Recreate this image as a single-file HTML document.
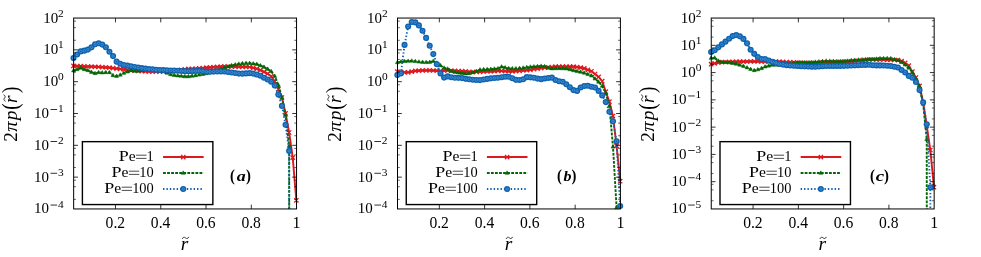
<!DOCTYPE html>
<html><head><meta charset="utf-8"><title>plot</title>
<style>
html,body{margin:0;padding:0;background:#fff;}
body{width:981px;height:257px;overflow:hidden;font-family:"Liberation Serif",serif;}
svg{display:block;will-change:transform;font-family:"Liberation Serif",serif;}
</style></head><body>
<svg width="981" height="257" viewBox="0 0 981 257" fill="#000">
<rect width="981" height="257" fill="#fff"/>
<g>
<path d="M73.5 65.9L77.09 66.05L80.69 66.2L84.28 66.35L87.88 66.49L91.47 66.63L95.06 66.77L98.66 66.98L102.25 67.21L105.85 67.43L109.44 67.71L113.03 68.13L116.63 68.55L120.22 68.96L123.82 69.45L127.41 69.97L131 70.36L134.6 70.64L138.19 70.89L141.79 71.1L145.38 71.32L148.97 71.53L152.57 71.74L156.16 71.75L159.76 71.69L163.35 71.62L166.94 71.56L170.54 71.42L174.13 70.89L177.73 70.36L181.32 69.84L184.91 69.31L188.51 68.93L192.1 68.76L195.7 68.6L199.29 68.43L202.88 68.06L206.48 67.63L210.07 67.36L213.67 67.1L217.26 66.85L220.85 66.59L224.45 66.42L228.04 66.51L231.64 66.6L235.23 66.68L238.82 66.77L242.42 66.85L246.01 66.92L249.61 66.99L253.2 67.84L256.79 68.78L260.39 70.13L263.98 71.82L267.58 73.73L271.17 76.32L274.76 81.3L278.36 89.3L281.95 97.5L285.55 113.4L289.14 132.5L292.73 157.6L296.33 200.3" stroke="#dd181f" stroke-width="1.9" fill="none" stroke-linejoin="round"/>
<path d="M71.35 63.75L75.65 68.05M71.35 68.05L75.65 63.75M74.94 63.9L79.24 68.2M74.94 68.2L79.24 63.9M78.54 64.05L82.84 68.35M78.54 68.35L82.84 64.05M82.13 64.2L86.43 68.5M82.13 68.5L86.43 64.2M85.73 64.34L90.03 68.64M85.73 68.64L90.03 64.34M89.32 64.48L93.62 68.78M89.32 68.78L93.62 64.48M92.91 64.62L97.21 68.92M92.91 68.92L97.21 64.62M96.51 64.83L100.81 69.13M96.51 69.13L100.81 64.83M100.1 65.06L104.4 69.36M100.1 69.36L104.4 65.06M103.7 65.28L108 69.58M103.7 69.58L108 65.28M107.29 65.56L111.59 69.86M107.29 69.86L111.59 65.56M110.88 65.98L115.18 70.28M110.88 70.28L115.18 65.98M114.48 66.4L118.78 70.7M114.48 70.7L118.78 66.4M118.07 66.81L122.37 71.11M118.07 71.11L122.37 66.81M121.67 67.3L125.97 71.6M121.67 71.6L125.97 67.3M125.26 67.82L129.56 72.12M125.26 72.12L129.56 67.82M128.85 68.21L133.15 72.51M128.85 72.51L133.15 68.21M132.45 68.49L136.75 72.79M132.45 72.79L136.75 68.49M136.04 68.74L140.34 73.04M136.04 73.04L140.34 68.74M139.64 68.95L143.94 73.25M139.64 73.25L143.94 68.95M143.23 69.17L147.53 73.47M143.23 73.47L147.53 69.17M146.82 69.38L151.12 73.68M146.82 73.68L151.12 69.38M150.42 69.59L154.72 73.89M150.42 73.89L154.72 69.59M154.01 69.6L158.31 73.9M154.01 73.9L158.31 69.6M157.61 69.54L161.91 73.84M157.61 73.84L161.91 69.54M161.2 69.47L165.5 73.77M161.2 73.77L165.5 69.47M164.79 69.41L169.09 73.71M164.79 73.71L169.09 69.41M168.39 69.27L172.69 73.57M168.39 73.57L172.69 69.27M171.98 68.74L176.28 73.04M171.98 73.04L176.28 68.74M175.58 68.21L179.88 72.51M175.58 72.51L179.88 68.21M179.17 67.69L183.47 71.99M179.17 71.99L183.47 67.69M182.76 67.16L187.06 71.46M182.76 71.46L187.06 67.16M186.36 66.78L190.66 71.08M186.36 71.08L190.66 66.78M189.95 66.61L194.25 70.91M189.95 70.91L194.25 66.61M193.55 66.45L197.85 70.75M193.55 70.75L197.85 66.45M197.14 66.28L201.44 70.58M197.14 70.58L201.44 66.28M200.73 65.91L205.03 70.21M200.73 70.21L205.03 65.91M204.33 65.48L208.63 69.78M204.33 69.78L208.63 65.48M207.92 65.21L212.22 69.51M207.92 69.51L212.22 65.21M211.52 64.95L215.82 69.25M211.52 69.25L215.82 64.95M215.11 64.7L219.41 69M215.11 69L219.41 64.7M218.7 64.44L223 68.74M218.7 68.74L223 64.44M222.3 64.27L226.6 68.57M222.3 68.57L226.6 64.27M225.89 64.36L230.19 68.66M225.89 68.66L230.19 64.36M229.49 64.45L233.79 68.75M229.49 68.75L233.79 64.45M233.08 64.53L237.38 68.83M233.08 68.83L237.38 64.53M236.67 64.62L240.97 68.92M236.67 68.92L240.97 64.62M240.27 64.7L244.57 69M240.27 69L244.57 64.7M243.86 64.77L248.16 69.07M243.86 69.07L248.16 64.77M247.46 64.84L251.76 69.14M247.46 69.14L251.76 64.84M251.05 65.69L255.35 69.99M251.05 69.99L255.35 65.69M254.64 66.63L258.94 70.93M254.64 70.93L258.94 66.63M258.24 67.98L262.54 72.28M258.24 72.28L262.54 67.98M261.83 69.67L266.13 73.97M261.83 73.97L266.13 69.67M265.43 71.58L269.73 75.88M265.43 75.88L269.73 71.58M269.02 74.17L273.32 78.47M269.02 78.47L273.32 74.17M272.61 79.15L276.91 83.45M272.61 83.45L276.91 79.15M276.21 87.15L280.51 91.45M276.21 91.45L280.51 87.15M279.8 95.35L284.1 99.65M279.8 99.65L284.1 95.35M283.4 111.25L287.7 115.55M283.4 115.55L287.7 111.25M286.99 130.35L291.29 134.65M286.99 134.65L291.29 130.35M290.58 155.45L294.88 159.75M290.58 159.75L294.88 155.45M294.18 198.15L298.48 202.45M294.18 202.45L298.48 198.15" stroke="#dd181f" stroke-width="1.3" fill="none"/>
<path d="M73.5 70.7L77.09 69.4L80.69 67.98L84.28 69.49L87.88 70.42L91.47 72.14L95.06 73.4L98.66 72.43L102.25 72.69L105.85 72.41L109.44 72.4L113.03 75.54L116.63 76.16L120.22 74.96L123.82 73.1L127.41 71.83L131 70.42L134.6 71.08L138.19 71.1L141.79 70.45L145.38 69.79L148.97 69.65L152.57 69.52L156.16 69.85L159.76 70.25L163.35 71.16L166.94 72.93L170.54 74.44L174.13 75.26L177.73 75.69L181.32 76.12L184.91 76.55L188.51 76.57L192.1 76.01L195.7 75.46L199.29 74.86L202.88 74.2L206.48 73.54L210.07 72.48L213.67 71.39L217.26 70.29L220.85 69.2L224.45 68.06L228.04 66.76L231.64 65.46L235.23 64.71L238.82 63.98L242.42 63.54L246.01 63.28L249.61 63.23L253.2 63.7L256.79 64.17L260.39 65.59L263.98 67.06L267.58 69.06L271.17 71.36L274.76 76.21L278.36 85.1L281.95 97.5L285.55 115.1L289.14 146L289.19 208.95" stroke="#056605" stroke-width="1.9" fill="none" stroke-dasharray="2.8 1.25" stroke-linejoin="round"/>
<path d="M73.5 68.5L75.5 71.95L71.5 71.95ZM77.09 67.2L79.09 70.65L75.09 70.65ZM80.69 65.78L82.69 69.23L78.69 69.23ZM84.28 67.29L86.28 70.74L82.28 70.74ZM87.88 68.22L89.88 71.67L85.88 71.67ZM91.47 69.94L93.47 73.39L89.47 73.39ZM95.06 71.2L97.06 74.65L93.06 74.65ZM98.66 70.23L100.66 73.68L96.66 73.68ZM102.25 70.49L104.25 73.94L100.25 73.94ZM105.85 70.21L107.85 73.66L103.85 73.66ZM109.44 70.2L111.44 73.65L107.44 73.65ZM113.03 73.34L115.03 76.79L111.03 76.79ZM116.63 73.96L118.63 77.41L114.63 77.41ZM120.22 72.76L122.22 76.21L118.22 76.21ZM123.82 70.9L125.82 74.35L121.82 74.35ZM127.41 69.63L129.41 73.08L125.41 73.08ZM131 68.22L133 71.67L129 71.67ZM134.6 68.88L136.6 72.33L132.6 72.33ZM138.19 68.9L140.19 72.35L136.19 72.35ZM141.79 68.25L143.79 71.7L139.79 71.7ZM145.38 67.59L147.38 71.04L143.38 71.04ZM148.97 67.45L150.97 70.9L146.97 70.9ZM152.57 67.32L154.57 70.77L150.57 70.77ZM156.16 67.65L158.16 71.1L154.16 71.1ZM159.76 68.05L161.76 71.5L157.76 71.5ZM163.35 68.96L165.35 72.41L161.35 72.41ZM166.94 70.73L168.94 74.18L164.94 74.18ZM170.54 72.24L172.54 75.69L168.54 75.69ZM174.13 73.06L176.13 76.51L172.13 76.51ZM177.73 73.49L179.73 76.94L175.73 76.94ZM181.32 73.92L183.32 77.37L179.32 77.37ZM184.91 74.35L186.91 77.8L182.91 77.8ZM188.51 74.37L190.51 77.82L186.51 77.82ZM192.1 73.81L194.1 77.26L190.1 77.26ZM195.7 73.26L197.7 76.71L193.7 76.71ZM199.29 72.66L201.29 76.11L197.29 76.11ZM202.88 72L204.88 75.45L200.88 75.45ZM206.48 71.34L208.48 74.79L204.48 74.79ZM210.07 70.28L212.07 73.73L208.07 73.73ZM213.67 69.19L215.67 72.64L211.67 72.64ZM217.26 68.09L219.26 71.54L215.26 71.54ZM220.85 67L222.85 70.45L218.85 70.45ZM224.45 65.86L226.45 69.31L222.45 69.31ZM228.04 64.56L230.04 68.01L226.04 68.01ZM231.64 63.26L233.64 66.71L229.64 66.71ZM235.23 62.51L237.23 65.96L233.23 65.96ZM238.82 61.78L240.82 65.23L236.82 65.23ZM242.42 61.34L244.42 64.79L240.42 64.79ZM246.01 61.08L248.01 64.53L244.01 64.53ZM249.61 61.03L251.61 64.48L247.61 64.48ZM253.2 61.5L255.2 64.95L251.2 64.95ZM256.79 61.97L258.79 65.42L254.79 65.42ZM260.39 63.39L262.39 66.84L258.39 66.84ZM263.98 64.86L265.98 68.31L261.98 68.31ZM267.58 66.86L269.58 70.31L265.58 70.31ZM271.17 69.16L273.17 72.61L269.17 72.61ZM274.76 74.01L276.76 77.46L272.76 77.46ZM278.36 82.9L280.36 86.35L276.36 86.35ZM281.95 95.3L283.95 98.75L279.95 98.75ZM285.55 112.9L287.55 116.35L283.55 116.35ZM289.14 143.8L291.14 147.25L287.14 147.25Z" fill="#056605" stroke="#056605" stroke-width="0.5" stroke-linejoin="miter"/>
<path d="M73.5 58.1L77.09 54.53L80.69 51.41L84.28 50.65L87.88 49.6L91.47 47.37L95.06 44.31L98.66 43.32L102.25 44.58L105.85 47.31L109.44 51.8L113.03 56.09L116.63 61.66L120.22 63.7L123.82 64.97L127.41 65.65L131 66.32L134.6 66.94L138.19 67.55L141.79 68.17L145.38 68.67L148.97 69.03L152.57 69.39L156.16 69.76L159.76 69.95L163.35 70.12L166.94 70.28L170.54 70.44L174.13 70.59L177.73 70.74L181.32 70.96L184.91 71.17L188.51 71.25L192.1 71.14L195.7 71.03L199.29 70.92L202.88 71.29L206.48 71.77L210.07 71.7L213.67 71.59L217.26 71.49L220.85 71.38L224.45 71.44L228.04 71.98L231.64 72.52L235.23 73.06L238.82 73.59L242.42 73.64L246.01 73.38L249.61 73.13L253.2 73.62L256.79 74.51L260.39 75.72L263.98 77.68L267.58 79.45L271.17 81.65L274.76 85.53L278.36 94.6L281.95 105.9L285.55 124.8L289.14 150.9L289.19 208.95" stroke="#0c62b0" stroke-width="1.9" fill="none" stroke-dasharray="1.4 2.0" stroke-linejoin="round"/>
<g fill="#0c62b0"><circle cx="73.5" cy="58.1" r="3.05"/><circle cx="77.09" cy="54.53" r="3.05"/><circle cx="80.69" cy="51.41" r="3.05"/><circle cx="84.28" cy="50.65" r="3.05"/><circle cx="87.88" cy="49.6" r="3.05"/><circle cx="91.47" cy="47.37" r="3.05"/><circle cx="95.06" cy="44.31" r="3.05"/><circle cx="98.66" cy="43.32" r="3.05"/><circle cx="102.25" cy="44.58" r="3.05"/><circle cx="105.85" cy="47.31" r="3.05"/><circle cx="109.44" cy="51.8" r="3.05"/><circle cx="113.03" cy="56.09" r="3.05"/><circle cx="116.63" cy="61.66" r="3.05"/><circle cx="120.22" cy="63.7" r="3.05"/><circle cx="123.82" cy="64.97" r="3.05"/><circle cx="127.41" cy="65.65" r="3.05"/><circle cx="131" cy="66.32" r="3.05"/><circle cx="134.6" cy="66.94" r="3.05"/><circle cx="138.19" cy="67.55" r="3.05"/><circle cx="141.79" cy="68.17" r="3.05"/><circle cx="145.38" cy="68.67" r="3.05"/><circle cx="148.97" cy="69.03" r="3.05"/><circle cx="152.57" cy="69.39" r="3.05"/><circle cx="156.16" cy="69.76" r="3.05"/><circle cx="159.76" cy="69.95" r="3.05"/><circle cx="163.35" cy="70.12" r="3.05"/><circle cx="166.94" cy="70.28" r="3.05"/><circle cx="170.54" cy="70.44" r="3.05"/><circle cx="174.13" cy="70.59" r="3.05"/><circle cx="177.73" cy="70.74" r="3.05"/><circle cx="181.32" cy="70.96" r="3.05"/><circle cx="184.91" cy="71.17" r="3.05"/><circle cx="188.51" cy="71.25" r="3.05"/><circle cx="192.1" cy="71.14" r="3.05"/><circle cx="195.7" cy="71.03" r="3.05"/><circle cx="199.29" cy="70.92" r="3.05"/><circle cx="202.88" cy="71.29" r="3.05"/><circle cx="206.48" cy="71.77" r="3.05"/><circle cx="210.07" cy="71.7" r="3.05"/><circle cx="213.67" cy="71.59" r="3.05"/><circle cx="217.26" cy="71.49" r="3.05"/><circle cx="220.85" cy="71.38" r="3.05"/><circle cx="224.45" cy="71.44" r="3.05"/><circle cx="228.04" cy="71.98" r="3.05"/><circle cx="231.64" cy="72.52" r="3.05"/><circle cx="235.23" cy="73.06" r="3.05"/><circle cx="238.82" cy="73.59" r="3.05"/><circle cx="242.42" cy="73.64" r="3.05"/><circle cx="246.01" cy="73.38" r="3.05"/><circle cx="249.61" cy="73.13" r="3.05"/><circle cx="253.2" cy="73.62" r="3.05"/><circle cx="256.79" cy="74.51" r="3.05"/><circle cx="260.39" cy="75.72" r="3.05"/><circle cx="263.98" cy="77.68" r="3.05"/><circle cx="267.58" cy="79.45" r="3.05"/><circle cx="271.17" cy="81.65" r="3.05"/><circle cx="274.76" cy="85.53" r="3.05"/><circle cx="278.36" cy="94.6" r="3.05"/><circle cx="281.95" cy="105.9" r="3.05"/><circle cx="285.55" cy="124.8" r="3.05"/><circle cx="289.14" cy="150.9" r="3.05"/></g><g fill="none" stroke="#65a3de" stroke-width="0.6"><circle cx="73.5" cy="58.1" r="1.2"/><circle cx="77.09" cy="54.53" r="1.2"/><circle cx="80.69" cy="51.41" r="1.2"/><circle cx="84.28" cy="50.65" r="1.2"/><circle cx="87.88" cy="49.6" r="1.2"/><circle cx="91.47" cy="47.37" r="1.2"/><circle cx="95.06" cy="44.31" r="1.2"/><circle cx="98.66" cy="43.32" r="1.2"/><circle cx="102.25" cy="44.58" r="1.2"/><circle cx="105.85" cy="47.31" r="1.2"/><circle cx="109.44" cy="51.8" r="1.2"/><circle cx="113.03" cy="56.09" r="1.2"/><circle cx="116.63" cy="61.66" r="1.2"/><circle cx="120.22" cy="63.7" r="1.2"/><circle cx="123.82" cy="64.97" r="1.2"/><circle cx="127.41" cy="65.65" r="1.2"/><circle cx="131" cy="66.32" r="1.2"/><circle cx="134.6" cy="66.94" r="1.2"/><circle cx="138.19" cy="67.55" r="1.2"/><circle cx="141.79" cy="68.17" r="1.2"/><circle cx="145.38" cy="68.67" r="1.2"/><circle cx="148.97" cy="69.03" r="1.2"/><circle cx="152.57" cy="69.39" r="1.2"/><circle cx="156.16" cy="69.76" r="1.2"/><circle cx="159.76" cy="69.95" r="1.2"/><circle cx="163.35" cy="70.12" r="1.2"/><circle cx="166.94" cy="70.28" r="1.2"/><circle cx="170.54" cy="70.44" r="1.2"/><circle cx="174.13" cy="70.59" r="1.2"/><circle cx="177.73" cy="70.74" r="1.2"/><circle cx="181.32" cy="70.96" r="1.2"/><circle cx="184.91" cy="71.17" r="1.2"/><circle cx="188.51" cy="71.25" r="1.2"/><circle cx="192.1" cy="71.14" r="1.2"/><circle cx="195.7" cy="71.03" r="1.2"/><circle cx="199.29" cy="70.92" r="1.2"/><circle cx="202.88" cy="71.29" r="1.2"/><circle cx="206.48" cy="71.77" r="1.2"/><circle cx="210.07" cy="71.7" r="1.2"/><circle cx="213.67" cy="71.59" r="1.2"/><circle cx="217.26" cy="71.49" r="1.2"/><circle cx="220.85" cy="71.38" r="1.2"/><circle cx="224.45" cy="71.44" r="1.2"/><circle cx="228.04" cy="71.98" r="1.2"/><circle cx="231.64" cy="72.52" r="1.2"/><circle cx="235.23" cy="73.06" r="1.2"/><circle cx="238.82" cy="73.59" r="1.2"/><circle cx="242.42" cy="73.64" r="1.2"/><circle cx="246.01" cy="73.38" r="1.2"/><circle cx="249.61" cy="73.13" r="1.2"/><circle cx="253.2" cy="73.62" r="1.2"/><circle cx="256.79" cy="74.51" r="1.2"/><circle cx="260.39" cy="75.72" r="1.2"/><circle cx="263.98" cy="77.68" r="1.2"/><circle cx="267.58" cy="79.45" r="1.2"/><circle cx="271.17" cy="81.65" r="1.2"/><circle cx="274.76" cy="85.53" r="1.2"/><circle cx="278.36" cy="94.6" r="1.2"/><circle cx="281.95" cy="105.9" r="1.2"/><circle cx="285.55" cy="124.8" r="1.2"/><circle cx="289.14" cy="150.9" r="1.2"/></g>
<rect x="82.4" y="141.66" width="130.46" height="62.9" fill="#fff" stroke="#000" stroke-width="1.4"/>
<rect x="73.65" y="18.05" width="222.9" height="190.9" fill="none" stroke="#000" stroke-width="1.0"/>
<path d="M115.48 208.95v-4.3M115.48 18.05v4.3M160.76 208.95v-4.3M160.76 18.05v4.3M206.04 208.95v-4.3M206.04 18.05v4.3M251.32 208.95v-4.3M251.32 18.05v4.3M73.65 49.87h4.3M296.55 49.87h-4.3M73.65 81.68h4.3M296.55 81.68h-4.3M73.65 113.5h4.3M296.55 113.5h-4.3M73.65 145.32h4.3M296.55 145.32h-4.3M73.65 177.13h4.3M296.55 177.13h-4.3" stroke="#000" stroke-width="0.8" fill="none"/>
<path d="M73.65 40.29h2.3M296.55 40.29h-2.3M73.65 27.63h2.3M296.55 27.63h-2.3M73.65 21.13h2.3M296.55 21.13h-2.3M73.65 72.11h2.3M296.55 72.11h-2.3M73.65 59.44h2.3M296.55 59.44h-2.3M73.65 52.95h2.3M296.55 52.95h-2.3M73.65 103.92h2.3M296.55 103.92h-2.3M73.65 91.26h2.3M296.55 91.26h-2.3M73.65 84.77h2.3M296.55 84.77h-2.3M73.65 135.74h2.3M296.55 135.74h-2.3M73.65 123.08h2.3M296.55 123.08h-2.3M73.65 116.58h2.3M296.55 116.58h-2.3M73.65 167.56h2.3M296.55 167.56h-2.3M73.65 154.89h2.3M296.55 154.89h-2.3M73.65 148.4h2.3M296.55 148.4h-2.3M73.65 199.37h2.3M296.55 199.37h-2.3M73.65 186.71h2.3M296.55 186.71h-2.3M73.65 180.22h2.3M296.55 180.22h-2.3" stroke="#000" stroke-width="0.6" fill="none"/>
<text x="43.25" y="22.55" font-size="15.4" textLength="15.0" lengthAdjust="spacingAndGlyphs">10</text><text x="60.95" y="16.65" text-anchor="middle" font-size="11.4">2</text>
<text x="43.25" y="54.37" font-size="15.4" textLength="15.0" lengthAdjust="spacingAndGlyphs">10</text><text x="60.95" y="48.47" text-anchor="middle" font-size="11.4">1</text>
<text x="43.25" y="86.18" font-size="15.4" textLength="15.0" lengthAdjust="spacingAndGlyphs">10</text><text x="60.95" y="80.28" text-anchor="middle" font-size="11.4">0</text>
<text x="33.95" y="118" font-size="15.4" textLength="15.0" lengthAdjust="spacingAndGlyphs">10</text><rect x="50.55" y="109.2" width="6.6" height="0.8"/><text x="60.75" y="112.1" text-anchor="middle" font-size="11.4">1</text>
<text x="33.95" y="149.82" font-size="15.4" textLength="15.0" lengthAdjust="spacingAndGlyphs">10</text><rect x="50.55" y="141.02" width="6.6" height="0.8"/><text x="60.75" y="143.92" text-anchor="middle" font-size="11.4">2</text>
<text x="33.95" y="181.63" font-size="15.4" textLength="15.0" lengthAdjust="spacingAndGlyphs">10</text><rect x="50.55" y="172.83" width="6.6" height="0.8"/><text x="60.75" y="175.73" text-anchor="middle" font-size="11.4">3</text>
<text x="33.95" y="213.45" font-size="15.4" textLength="15.0" lengthAdjust="spacingAndGlyphs">10</text><rect x="50.55" y="204.65" width="6.6" height="0.8"/><text x="60.75" y="207.55" text-anchor="middle" font-size="11.4">4</text>
<text x="105.58" y="228.1" font-size="16.0" textLength="19.5" lengthAdjust="spacingAndGlyphs">0.2</text>
<text x="150.86" y="228.1" font-size="16.0" textLength="19.5" lengthAdjust="spacingAndGlyphs">0.4</text>
<text x="196.14" y="228.1" font-size="16.0" textLength="19.5" lengthAdjust="spacingAndGlyphs">0.6</text>
<text x="241.42" y="228.1" font-size="16.0" textLength="19.5" lengthAdjust="spacingAndGlyphs">0.8</text>
<text x="296.55" y="228.1" text-anchor="middle" font-size="16.0">1</text>
<text x="153.75" y="160.6" text-anchor="end" font-size="14.4">1</text>
<path d="M136.05 155.2h10.4M136.05 158.4h10.4" stroke="#000" stroke-width="0.7" fill="none"/>
<text x="135.55" y="160.6" text-anchor="end" font-size="15.6">e</text>
<text x="118.65" y="160.6" font-size="15.3" textLength="10.0" lengthAdjust="spacingAndGlyphs">P</text>
<path d="M163.05 157.05H203.65" stroke="#dd181f" stroke-width="1.9"/>
<path d="M181.1 154.9L185.4 159.2M181.1 159.2L185.4 154.9" stroke="#dd181f" stroke-width="1.3" fill="none"/>
<text x="153.75" y="176.6" text-anchor="end" font-size="14.4">10</text>
<path d="M128.85 171.2h10.4M128.85 174.4h10.4" stroke="#000" stroke-width="0.7" fill="none"/>
<text x="128.35" y="176.6" text-anchor="end" font-size="15.6">e</text>
<text x="111.45" y="176.6" font-size="15.3" textLength="10.0" lengthAdjust="spacingAndGlyphs">P</text>
<path d="M163.05 173.05H203.65" stroke="#056605" stroke-width="1.9" stroke-dasharray="2.8 1.25"/>
<path d="M183.25 170.85L185.25 174.3L181.25 174.3Z" fill="#056605" stroke="#056605" stroke-width="0.5" stroke-linejoin="miter"/>
<text x="153.75" y="192.6" text-anchor="end" font-size="14.4">100</text>
<path d="M121.65 187.2h10.4M121.65 190.4h10.4" stroke="#000" stroke-width="0.7" fill="none"/>
<text x="121.15" y="192.6" text-anchor="end" font-size="15.6">e</text>
<text x="104.25" y="192.6" font-size="15.3" textLength="10.0" lengthAdjust="spacingAndGlyphs">P</text>
<path d="M163.05 189.05H203.65" stroke="#0c62b0" stroke-width="1.9" stroke-dasharray="1.4 2.0"/>
<g fill="#0c62b0"><circle cx="183.25" cy="189.05" r="3.05"/></g><g fill="none" stroke="#65a3de" stroke-width="0.6"><circle cx="183.25" cy="189.05" r="1.2"/></g>
<text x="230" y="181.2" font-size="17" font-weight="bold" textLength="4.9" lengthAdjust="spacingAndGlyphs">(</text>
<text x="236.8" y="181.0" font-size="14.4" font-weight="bold" font-style="italic" textLength="9.0" lengthAdjust="spacingAndGlyphs">a</text>
<text x="246" y="181.2" font-size="17" font-weight="bold" textLength="4.9" lengthAdjust="spacingAndGlyphs">)</text>
<text x="180.8" y="250.0" font-size="19.4" font-style="italic">r</text>
<path transform="translate(185.5 237.9)" d="M-3.1 0.7c0.7-1.7 1.9-1.7 3.1-0.7s2.4 1 3.1-0.7" stroke="#000" stroke-width="0.75" fill="none" stroke-linecap="round"/>
<g transform="translate(16.65 141.9) rotate(-90)" font-size="19.4"><text x="0.2" y="0">2</text><text x="10.2" y="0" font-style="italic" textLength="10.4" lengthAdjust="spacingAndGlyphs">π</text><text x="21.6" y="0" font-style="italic">p</text><text x="32.2" y="1.0" font-size="23" textLength="6.4" lengthAdjust="spacingAndGlyphs">(</text><text x="38.9" y="0" font-style="italic">r</text><path transform="translate(43.9 -12.1)" d="M-3.1 0.7c0.7-1.7 1.9-1.7 3.1-0.7s2.4 1 3.1-0.7" stroke="#000" stroke-width="0.75" fill="none" stroke-linecap="round"/><text x="49.0" y="1.0" font-size="23" textLength="6.4" lengthAdjust="spacingAndGlyphs">)</text></g>
</g>
<g>
<path d="M397.35 71.7L400.94 72.04L404.54 72.39L408.13 72.31L411.73 71.58L415.32 70.89L418.91 70.67L422.51 70.45L426.1 70.4L429.7 70.4L433.29 70.49L436.88 70.7L440.48 70.88L444.07 70.67L447.67 70.45L451.26 70.57L454.85 70.79L458.45 71L462.04 71.22L465.64 71.45L469.23 71.75L472.82 72.05L476.42 71.96L480.01 71.79L483.61 71.64L487.2 71.51L490.79 71.37L494.39 71.19L497.98 71L501.58 70.97L505.17 71.12L508.76 71.27L512.36 71.35L515.95 71.07L519.55 70.79L523.14 70.51L526.73 70.23L530.33 69.78L533.92 69.18L537.52 68.61L541.11 68.14L544.7 67.66L548.3 67.32L551.89 66.99L555.49 66.7L559.08 66.7L562.67 66.7L566.27 66.7L569.86 66.7L573.46 66.7L577.05 67.04L580.64 67.64L584.24 68.43L587.83 69.84L591.43 71.25L595.02 74L598.61 76.93L602.21 81.1L605.8 91.7L609.4 101.7L612.99 116L616.58 145.9L620.18 181.2" stroke="#dd181f" stroke-width="1.9" fill="none" stroke-linejoin="round"/>
<path d="M395.2 69.55L399.5 73.85M395.2 73.85L399.5 69.55M398.79 69.89L403.09 74.19M398.79 74.19L403.09 69.89M402.39 70.24L406.69 74.54M402.39 74.54L406.69 70.24M405.98 70.16L410.28 74.46M405.98 74.46L410.28 70.16M409.58 69.43L413.88 73.73M409.58 73.73L413.88 69.43M413.17 68.74L417.47 73.04M413.17 73.04L417.47 68.74M416.76 68.52L421.06 72.82M416.76 72.82L421.06 68.52M420.36 68.3L424.66 72.6M420.36 72.6L424.66 68.3M423.95 68.25L428.25 72.55M423.95 72.55L428.25 68.25M427.55 68.25L431.85 72.55M427.55 72.55L431.85 68.25M431.14 68.34L435.44 72.64M431.14 72.64L435.44 68.34M434.73 68.55L439.03 72.85M434.73 72.85L439.03 68.55M438.33 68.73L442.63 73.03M438.33 73.03L442.63 68.73M441.92 68.52L446.22 72.82M441.92 72.82L446.22 68.52M445.52 68.3L449.82 72.6M445.52 72.6L449.82 68.3M449.11 68.42L453.41 72.72M449.11 72.72L453.41 68.42M452.7 68.64L457 72.94M452.7 72.94L457 68.64M456.3 68.85L460.6 73.15M456.3 73.15L460.6 68.85M459.89 69.07L464.19 73.37M459.89 73.37L464.19 69.07M463.49 69.3L467.79 73.6M463.49 73.6L467.79 69.3M467.08 69.6L471.38 73.9M467.08 73.9L471.38 69.6M470.67 69.9L474.97 74.2M470.67 74.2L474.97 69.9M474.27 69.81L478.57 74.11M474.27 74.11L478.57 69.81M477.86 69.64L482.16 73.94M477.86 73.94L482.16 69.64M481.46 69.49L485.76 73.79M481.46 73.79L485.76 69.49M485.05 69.36L489.35 73.66M485.05 73.66L489.35 69.36M488.64 69.22L492.94 73.52M488.64 73.52L492.94 69.22M492.24 69.04L496.54 73.34M492.24 73.34L496.54 69.04M495.83 68.85L500.13 73.15M495.83 73.15L500.13 68.85M499.43 68.82L503.73 73.12M499.43 73.12L503.73 68.82M503.02 68.97L507.32 73.27M503.02 73.27L507.32 68.97M506.61 69.12L510.91 73.42M506.61 73.42L510.91 69.12M510.21 69.2L514.51 73.5M510.21 73.5L514.51 69.2M513.8 68.92L518.1 73.22M513.8 73.22L518.1 68.92M517.4 68.64L521.7 72.94M517.4 72.94L521.7 68.64M520.99 68.36L525.29 72.66M520.99 72.66L525.29 68.36M524.58 68.08L528.88 72.38M524.58 72.38L528.88 68.08M528.18 67.63L532.48 71.93M528.18 71.93L532.48 67.63M531.77 67.03L536.07 71.33M531.77 71.33L536.07 67.03M535.37 66.46L539.67 70.76M535.37 70.76L539.67 66.46M538.96 65.99L543.26 70.29M538.96 70.29L543.26 65.99M542.55 65.51L546.85 69.81M542.55 69.81L546.85 65.51M546.15 65.17L550.45 69.47M546.15 69.47L550.45 65.17M549.74 64.84L554.04 69.14M549.74 69.14L554.04 64.84M553.34 64.55L557.64 68.85M553.34 68.85L557.64 64.55M556.93 64.55L561.23 68.85M556.93 68.85L561.23 64.55M560.52 64.55L564.82 68.85M560.52 68.85L564.82 64.55M564.12 64.55L568.42 68.85M564.12 68.85L568.42 64.55M567.71 64.55L572.01 68.85M567.71 68.85L572.01 64.55M571.31 64.55L575.61 68.85M571.31 68.85L575.61 64.55M574.9 64.89L579.2 69.19M574.9 69.19L579.2 64.89M578.49 65.49L582.79 69.79M578.49 69.79L582.79 65.49M582.09 66.28L586.39 70.58M582.09 70.58L586.39 66.28M585.68 67.69L589.98 71.99M585.68 71.99L589.98 67.69M589.28 69.1L593.58 73.4M589.28 73.4L593.58 69.1M592.87 71.85L597.17 76.15M592.87 76.15L597.17 71.85M596.46 74.78L600.76 79.08M596.46 79.08L600.76 74.78M600.06 78.95L604.36 83.25M600.06 83.25L604.36 78.95M603.65 89.55L607.95 93.85M603.65 93.85L607.95 89.55M607.25 99.55L611.55 103.85M607.25 103.85L611.55 99.55M610.84 113.85L615.14 118.15M610.84 118.15L615.14 113.85M614.43 143.75L618.73 148.05M614.43 148.05L618.73 143.75M618.03 179.05L622.33 183.35M618.03 183.35L622.33 179.05" stroke="#dd181f" stroke-width="1.3" fill="none"/>
<path d="M397.35 62.5L400.94 61.85L404.54 61.33L408.13 61.11L411.73 60.9L415.32 61.37L418.91 61.84L422.51 62.14L426.1 62.36L429.7 62.17L433.29 61.18L436.88 62.93L440.48 65.55L444.07 67.91L447.67 68.88L451.26 71.22L454.85 72.13L458.45 72.83L462.04 73.3L465.64 73.67L469.23 73.45L472.82 72.47L476.42 71.17L480.01 69.74L483.61 69.53L487.2 69.35L490.79 69.15L494.39 68.86L497.98 68.56L501.58 66.82L505.17 67.58L508.76 68.42L512.36 68.58L515.95 68.62L519.55 68.3L523.14 67.9L526.73 67.35L530.33 66.94L533.92 66.64L537.52 66.35L541.11 66.08L544.7 66.42L548.3 67.97L551.89 68.63L555.49 68.5L559.08 68.42L562.67 68.55L566.27 68.68L569.86 69.54L573.46 70.49L577.05 71.31L580.64 72.04L584.24 72.93L587.83 74.34L591.43 75.75L595.02 78.74L598.61 81.93L602.21 86.1L605.8 93.2L609.4 106.18L612.99 146.8L616.58 207.5" stroke="#056605" stroke-width="1.9" fill="none" stroke-dasharray="2.8 1.25" stroke-linejoin="round"/>
<path d="M397.35 60.3L399.35 63.75L395.35 63.75ZM400.94 59.65L402.94 63.1L398.94 63.1ZM404.54 59.13L406.54 62.58L402.54 62.58ZM408.13 58.91L410.13 62.36L406.13 62.36ZM411.73 58.7L413.73 62.15L409.73 62.15ZM415.32 59.17L417.32 62.62L413.32 62.62ZM418.91 59.64L420.91 63.09L416.91 63.09ZM422.51 59.94L424.51 63.39L420.51 63.39ZM426.1 60.16L428.1 63.61L424.1 63.61ZM429.7 59.97L431.7 63.42L427.7 63.42ZM433.29 58.98L435.29 62.43L431.29 62.43ZM436.88 60.73L438.88 64.18L434.88 64.18ZM440.48 63.35L442.48 66.8L438.48 66.8ZM444.07 65.71L446.07 69.16L442.07 69.16ZM447.67 66.68L449.67 70.13L445.67 70.13ZM451.26 69.02L453.26 72.47L449.26 72.47ZM454.85 69.93L456.85 73.38L452.85 73.38ZM458.45 70.63L460.45 74.08L456.45 74.08ZM462.04 71.1L464.04 74.55L460.04 74.55ZM465.64 71.47L467.64 74.92L463.64 74.92ZM469.23 71.25L471.23 74.7L467.23 74.7ZM472.82 70.27L474.82 73.72L470.82 73.72ZM476.42 68.97L478.42 72.42L474.42 72.42ZM480.01 67.54L482.01 70.99L478.01 70.99ZM483.61 67.33L485.61 70.78L481.61 70.78ZM487.2 67.15L489.2 70.6L485.2 70.6ZM490.79 66.95L492.79 70.4L488.79 70.4ZM494.39 66.66L496.39 70.11L492.39 70.11ZM497.98 66.36L499.98 69.81L495.98 69.81ZM501.58 64.62L503.58 68.07L499.58 68.07ZM505.17 65.38L507.17 68.83L503.17 68.83ZM508.76 66.22L510.76 69.67L506.76 69.67ZM512.36 66.38L514.36 69.83L510.36 69.83ZM515.95 66.42L517.95 69.87L513.95 69.87ZM519.55 66.1L521.55 69.55L517.55 69.55ZM523.14 65.7L525.14 69.15L521.14 69.15ZM526.73 65.15L528.73 68.6L524.73 68.6ZM530.33 64.74L532.33 68.19L528.33 68.19ZM533.92 64.44L535.92 67.89L531.92 67.89ZM537.52 64.15L539.52 67.6L535.52 67.6ZM541.11 63.88L543.11 67.33L539.11 67.33ZM544.7 64.22L546.7 67.67L542.7 67.67ZM548.3 65.77L550.3 69.22L546.3 69.22ZM551.89 66.43L553.89 69.88L549.89 69.88ZM555.49 66.3L557.49 69.75L553.49 69.75ZM559.08 66.22L561.08 69.67L557.08 69.67ZM562.67 66.35L564.67 69.8L560.67 69.8ZM566.27 66.48L568.27 69.93L564.27 69.93ZM569.86 67.34L571.86 70.79L567.86 70.79ZM573.46 68.29L575.46 71.74L571.46 71.74ZM577.05 69.11L579.05 72.56L575.05 72.56ZM580.64 69.84L582.64 73.29L578.64 73.29ZM584.24 70.73L586.24 74.18L582.24 74.18ZM587.83 72.14L589.83 75.59L585.83 75.59ZM591.43 73.55L593.43 77L589.43 77ZM595.02 76.54L597.02 79.99L593.02 79.99ZM598.61 79.73L600.61 83.18L596.61 83.18ZM602.21 83.9L604.21 87.35L600.21 87.35ZM605.8 91L607.8 94.45L603.8 94.45ZM609.4 103.98L611.4 107.43L607.4 107.43ZM612.99 144.6L614.99 148.05L610.99 148.05ZM616.58 205.3L618.58 208.75L614.58 208.75Z" fill="#056605" stroke="#056605" stroke-width="0.5" stroke-linejoin="miter"/>
<path d="M397.35 75.1L400.94 73.4L404.54 44.9L408.13 26.5L411.73 22L415.32 22.4L418.91 25.4L422.51 30.7L426.1 37.9L429.7 45.8L433.29 54.1L436.88 64.2L440.48 73.4L444.07 77.6L447.67 76.4L451.26 77.25L454.85 77.81L458.45 77.84L462.04 78.08L465.64 78.86L469.23 79.3L472.82 79.73L476.42 79.94L480.01 80.1L483.61 79.51L487.2 78.9L490.79 78.35L494.39 78.06L497.98 77.76L501.58 77.23L505.17 76.8L508.76 76.8L512.36 78.21L515.95 79.84L519.55 80L523.14 79.3L526.73 77.14L530.33 77.36L533.92 77.71L537.52 78.62L541.11 79.13L544.7 78.48L548.3 77.97L551.89 77.65L555.49 79.95L559.08 81.22L562.67 81.7L566.27 84.21L569.86 87.2L573.46 90.11L577.05 90.9L580.64 87.5L584.24 86L587.83 85.8L591.43 86.7L595.02 87.5L598.61 90.9L602.21 95.4L605.8 102.1L609.4 111.8L612.99 121.3L616.58 141.4L620.18 206" stroke="#0c62b0" stroke-width="1.9" fill="none" stroke-dasharray="1.4 2.0" stroke-linejoin="round"/>
<g fill="#0c62b0"><circle cx="397.35" cy="75.1" r="3.05"/><circle cx="400.94" cy="73.4" r="3.05"/><circle cx="404.54" cy="44.9" r="3.05"/><circle cx="408.13" cy="26.5" r="3.05"/><circle cx="411.73" cy="22" r="3.05"/><circle cx="415.32" cy="22.4" r="3.05"/><circle cx="418.91" cy="25.4" r="3.05"/><circle cx="422.51" cy="30.7" r="3.05"/><circle cx="426.1" cy="37.9" r="3.05"/><circle cx="429.7" cy="45.8" r="3.05"/><circle cx="433.29" cy="54.1" r="3.05"/><circle cx="436.88" cy="64.2" r="3.05"/><circle cx="440.48" cy="73.4" r="3.05"/><circle cx="444.07" cy="77.6" r="3.05"/><circle cx="447.67" cy="76.4" r="3.05"/><circle cx="451.26" cy="77.25" r="3.05"/><circle cx="454.85" cy="77.81" r="3.05"/><circle cx="458.45" cy="77.84" r="3.05"/><circle cx="462.04" cy="78.08" r="3.05"/><circle cx="465.64" cy="78.86" r="3.05"/><circle cx="469.23" cy="79.3" r="3.05"/><circle cx="472.82" cy="79.73" r="3.05"/><circle cx="476.42" cy="79.94" r="3.05"/><circle cx="480.01" cy="80.1" r="3.05"/><circle cx="483.61" cy="79.51" r="3.05"/><circle cx="487.2" cy="78.9" r="3.05"/><circle cx="490.79" cy="78.35" r="3.05"/><circle cx="494.39" cy="78.06" r="3.05"/><circle cx="497.98" cy="77.76" r="3.05"/><circle cx="501.58" cy="77.23" r="3.05"/><circle cx="505.17" cy="76.8" r="3.05"/><circle cx="508.76" cy="76.8" r="3.05"/><circle cx="512.36" cy="78.21" r="3.05"/><circle cx="515.95" cy="79.84" r="3.05"/><circle cx="519.55" cy="80" r="3.05"/><circle cx="523.14" cy="79.3" r="3.05"/><circle cx="526.73" cy="77.14" r="3.05"/><circle cx="530.33" cy="77.36" r="3.05"/><circle cx="533.92" cy="77.71" r="3.05"/><circle cx="537.52" cy="78.62" r="3.05"/><circle cx="541.11" cy="79.13" r="3.05"/><circle cx="544.7" cy="78.48" r="3.05"/><circle cx="548.3" cy="77.97" r="3.05"/><circle cx="551.89" cy="77.65" r="3.05"/><circle cx="555.49" cy="79.95" r="3.05"/><circle cx="559.08" cy="81.22" r="3.05"/><circle cx="562.67" cy="81.7" r="3.05"/><circle cx="566.27" cy="84.21" r="3.05"/><circle cx="569.86" cy="87.2" r="3.05"/><circle cx="573.46" cy="90.11" r="3.05"/><circle cx="577.05" cy="90.9" r="3.05"/><circle cx="580.64" cy="87.5" r="3.05"/><circle cx="584.24" cy="86" r="3.05"/><circle cx="587.83" cy="85.8" r="3.05"/><circle cx="591.43" cy="86.7" r="3.05"/><circle cx="595.02" cy="87.5" r="3.05"/><circle cx="598.61" cy="90.9" r="3.05"/><circle cx="602.21" cy="95.4" r="3.05"/><circle cx="605.8" cy="102.1" r="3.05"/><circle cx="609.4" cy="111.8" r="3.05"/><circle cx="612.99" cy="121.3" r="3.05"/><circle cx="616.58" cy="141.4" r="3.05"/><circle cx="620.18" cy="206" r="3.05"/></g><g fill="none" stroke="#65a3de" stroke-width="0.6"><circle cx="397.35" cy="75.1" r="1.2"/><circle cx="400.94" cy="73.4" r="1.2"/><circle cx="404.54" cy="44.9" r="1.2"/><circle cx="408.13" cy="26.5" r="1.2"/><circle cx="411.73" cy="22" r="1.2"/><circle cx="415.32" cy="22.4" r="1.2"/><circle cx="418.91" cy="25.4" r="1.2"/><circle cx="422.51" cy="30.7" r="1.2"/><circle cx="426.1" cy="37.9" r="1.2"/><circle cx="429.7" cy="45.8" r="1.2"/><circle cx="433.29" cy="54.1" r="1.2"/><circle cx="436.88" cy="64.2" r="1.2"/><circle cx="440.48" cy="73.4" r="1.2"/><circle cx="444.07" cy="77.6" r="1.2"/><circle cx="447.67" cy="76.4" r="1.2"/><circle cx="451.26" cy="77.25" r="1.2"/><circle cx="454.85" cy="77.81" r="1.2"/><circle cx="458.45" cy="77.84" r="1.2"/><circle cx="462.04" cy="78.08" r="1.2"/><circle cx="465.64" cy="78.86" r="1.2"/><circle cx="469.23" cy="79.3" r="1.2"/><circle cx="472.82" cy="79.73" r="1.2"/><circle cx="476.42" cy="79.94" r="1.2"/><circle cx="480.01" cy="80.1" r="1.2"/><circle cx="483.61" cy="79.51" r="1.2"/><circle cx="487.2" cy="78.9" r="1.2"/><circle cx="490.79" cy="78.35" r="1.2"/><circle cx="494.39" cy="78.06" r="1.2"/><circle cx="497.98" cy="77.76" r="1.2"/><circle cx="501.58" cy="77.23" r="1.2"/><circle cx="505.17" cy="76.8" r="1.2"/><circle cx="508.76" cy="76.8" r="1.2"/><circle cx="512.36" cy="78.21" r="1.2"/><circle cx="515.95" cy="79.84" r="1.2"/><circle cx="519.55" cy="80" r="1.2"/><circle cx="523.14" cy="79.3" r="1.2"/><circle cx="526.73" cy="77.14" r="1.2"/><circle cx="530.33" cy="77.36" r="1.2"/><circle cx="533.92" cy="77.71" r="1.2"/><circle cx="537.52" cy="78.62" r="1.2"/><circle cx="541.11" cy="79.13" r="1.2"/><circle cx="544.7" cy="78.48" r="1.2"/><circle cx="548.3" cy="77.97" r="1.2"/><circle cx="551.89" cy="77.65" r="1.2"/><circle cx="555.49" cy="79.95" r="1.2"/><circle cx="559.08" cy="81.22" r="1.2"/><circle cx="562.67" cy="81.7" r="1.2"/><circle cx="566.27" cy="84.21" r="1.2"/><circle cx="569.86" cy="87.2" r="1.2"/><circle cx="573.46" cy="90.11" r="1.2"/><circle cx="577.05" cy="90.9" r="1.2"/><circle cx="580.64" cy="87.5" r="1.2"/><circle cx="584.24" cy="86" r="1.2"/><circle cx="587.83" cy="85.8" r="1.2"/><circle cx="591.43" cy="86.7" r="1.2"/><circle cx="595.02" cy="87.5" r="1.2"/><circle cx="598.61" cy="90.9" r="1.2"/><circle cx="602.21" cy="95.4" r="1.2"/><circle cx="605.8" cy="102.1" r="1.2"/><circle cx="609.4" cy="111.8" r="1.2"/><circle cx="612.99" cy="121.3" r="1.2"/><circle cx="616.58" cy="141.4" r="1.2"/><circle cx="620.18" cy="206" r="1.2"/></g>
<rect x="406.25" y="141.66" width="130.46" height="62.9" fill="#fff" stroke="#000" stroke-width="1.4"/>
<rect x="397.5" y="18.05" width="222.9" height="190.9" fill="none" stroke="#000" stroke-width="1.0"/>
<path d="M439.33 208.95v-4.3M439.33 18.05v4.3M484.61 208.95v-4.3M484.61 18.05v4.3M529.89 208.95v-4.3M529.89 18.05v4.3M575.17 208.95v-4.3M575.17 18.05v4.3M397.5 49.87h4.3M620.4 49.87h-4.3M397.5 81.68h4.3M620.4 81.68h-4.3M397.5 113.5h4.3M620.4 113.5h-4.3M397.5 145.32h4.3M620.4 145.32h-4.3M397.5 177.13h4.3M620.4 177.13h-4.3" stroke="#000" stroke-width="0.8" fill="none"/>
<path d="M397.5 40.29h2.3M620.4 40.29h-2.3M397.5 27.63h2.3M620.4 27.63h-2.3M397.5 21.13h2.3M620.4 21.13h-2.3M397.5 72.11h2.3M620.4 72.11h-2.3M397.5 59.44h2.3M620.4 59.44h-2.3M397.5 52.95h2.3M620.4 52.95h-2.3M397.5 103.92h2.3M620.4 103.92h-2.3M397.5 91.26h2.3M620.4 91.26h-2.3M397.5 84.77h2.3M620.4 84.77h-2.3M397.5 135.74h2.3M620.4 135.74h-2.3M397.5 123.08h2.3M620.4 123.08h-2.3M397.5 116.58h2.3M620.4 116.58h-2.3M397.5 167.56h2.3M620.4 167.56h-2.3M397.5 154.89h2.3M620.4 154.89h-2.3M397.5 148.4h2.3M620.4 148.4h-2.3M397.5 199.37h2.3M620.4 199.37h-2.3M397.5 186.71h2.3M620.4 186.71h-2.3M397.5 180.22h2.3M620.4 180.22h-2.3" stroke="#000" stroke-width="0.6" fill="none"/>
<text x="367.1" y="22.55" font-size="15.4" textLength="15.0" lengthAdjust="spacingAndGlyphs">10</text><text x="384.8" y="16.65" text-anchor="middle" font-size="11.4">2</text>
<text x="367.1" y="54.37" font-size="15.4" textLength="15.0" lengthAdjust="spacingAndGlyphs">10</text><text x="384.8" y="48.47" text-anchor="middle" font-size="11.4">1</text>
<text x="367.1" y="86.18" font-size="15.4" textLength="15.0" lengthAdjust="spacingAndGlyphs">10</text><text x="384.8" y="80.28" text-anchor="middle" font-size="11.4">0</text>
<text x="357.8" y="118" font-size="15.4" textLength="15.0" lengthAdjust="spacingAndGlyphs">10</text><rect x="374.4" y="109.2" width="6.6" height="0.8"/><text x="384.6" y="112.1" text-anchor="middle" font-size="11.4">1</text>
<text x="357.8" y="149.82" font-size="15.4" textLength="15.0" lengthAdjust="spacingAndGlyphs">10</text><rect x="374.4" y="141.02" width="6.6" height="0.8"/><text x="384.6" y="143.92" text-anchor="middle" font-size="11.4">2</text>
<text x="357.8" y="181.63" font-size="15.4" textLength="15.0" lengthAdjust="spacingAndGlyphs">10</text><rect x="374.4" y="172.83" width="6.6" height="0.8"/><text x="384.6" y="175.73" text-anchor="middle" font-size="11.4">3</text>
<text x="357.8" y="213.45" font-size="15.4" textLength="15.0" lengthAdjust="spacingAndGlyphs">10</text><rect x="374.4" y="204.65" width="6.6" height="0.8"/><text x="384.6" y="207.55" text-anchor="middle" font-size="11.4">4</text>
<text x="429.43" y="228.1" font-size="16.0" textLength="19.5" lengthAdjust="spacingAndGlyphs">0.2</text>
<text x="474.71" y="228.1" font-size="16.0" textLength="19.5" lengthAdjust="spacingAndGlyphs">0.4</text>
<text x="519.99" y="228.1" font-size="16.0" textLength="19.5" lengthAdjust="spacingAndGlyphs">0.6</text>
<text x="565.27" y="228.1" font-size="16.0" textLength="19.5" lengthAdjust="spacingAndGlyphs">0.8</text>
<text x="620.4" y="228.1" text-anchor="middle" font-size="16.0">1</text>
<text x="477.6" y="160.6" text-anchor="end" font-size="14.4">1</text>
<path d="M459.9 155.2h10.4M459.9 158.4h10.4" stroke="#000" stroke-width="0.7" fill="none"/>
<text x="459.4" y="160.6" text-anchor="end" font-size="15.6">e</text>
<text x="442.5" y="160.6" font-size="15.3" textLength="10.0" lengthAdjust="spacingAndGlyphs">P</text>
<path d="M486.9 157.05H527.5" stroke="#dd181f" stroke-width="1.9"/>
<path d="M504.95 154.9L509.25 159.2M504.95 159.2L509.25 154.9" stroke="#dd181f" stroke-width="1.3" fill="none"/>
<text x="477.6" y="176.6" text-anchor="end" font-size="14.4">10</text>
<path d="M452.7 171.2h10.4M452.7 174.4h10.4" stroke="#000" stroke-width="0.7" fill="none"/>
<text x="452.2" y="176.6" text-anchor="end" font-size="15.6">e</text>
<text x="435.3" y="176.6" font-size="15.3" textLength="10.0" lengthAdjust="spacingAndGlyphs">P</text>
<path d="M486.9 173.05H527.5" stroke="#056605" stroke-width="1.9" stroke-dasharray="2.8 1.25"/>
<path d="M507.1 170.85L509.1 174.3L505.1 174.3Z" fill="#056605" stroke="#056605" stroke-width="0.5" stroke-linejoin="miter"/>
<text x="477.6" y="192.6" text-anchor="end" font-size="14.4">100</text>
<path d="M445.5 187.2h10.4M445.5 190.4h10.4" stroke="#000" stroke-width="0.7" fill="none"/>
<text x="445" y="192.6" text-anchor="end" font-size="15.6">e</text>
<text x="428.1" y="192.6" font-size="15.3" textLength="10.0" lengthAdjust="spacingAndGlyphs">P</text>
<path d="M486.9 189.05H527.5" stroke="#0c62b0" stroke-width="1.9" stroke-dasharray="1.4 2.0"/>
<g fill="#0c62b0"><circle cx="507.1" cy="189.05" r="3.05"/></g><g fill="none" stroke="#65a3de" stroke-width="0.6"><circle cx="507.1" cy="189.05" r="1.2"/></g>
<text x="557" y="181.2" font-size="17" font-weight="bold" textLength="4.9" lengthAdjust="spacingAndGlyphs">(</text>
<text x="563.4" y="181.0" font-size="14.4" font-weight="bold" font-style="italic" textLength="8.0" lengthAdjust="spacingAndGlyphs">b</text>
<text x="571.4" y="181.2" font-size="17" font-weight="bold" textLength="4.9" lengthAdjust="spacingAndGlyphs">)</text>
<text x="504.65" y="250.0" font-size="19.4" font-style="italic">r</text>
<path transform="translate(509.35 237.9)" d="M-3.1 0.7c0.7-1.7 1.9-1.7 3.1-0.7s2.4 1 3.1-0.7" stroke="#000" stroke-width="0.75" fill="none" stroke-linecap="round"/>
<g transform="translate(340.5 141.9) rotate(-90)" font-size="19.4"><text x="0.2" y="0">2</text><text x="10.2" y="0" font-style="italic" textLength="10.4" lengthAdjust="spacingAndGlyphs">π</text><text x="21.6" y="0" font-style="italic">p</text><text x="32.2" y="1.0" font-size="23" textLength="6.4" lengthAdjust="spacingAndGlyphs">(</text><text x="38.9" y="0" font-style="italic">r</text><path transform="translate(43.9 -12.1)" d="M-3.1 0.7c0.7-1.7 1.9-1.7 3.1-0.7s2.4 1 3.1-0.7" stroke="#000" stroke-width="0.75" fill="none" stroke-linecap="round"/><text x="49.0" y="1.0" font-size="23" textLength="6.4" lengthAdjust="spacingAndGlyphs">)</text></g>
</g>
<g>
<path d="M711.1 64.2L714.69 63.43L718.29 62.63L721.88 62.07L725.48 61.99L729.07 61.9L732.66 61.81L736.26 61.73L739.85 61.66L743.45 61.59L747.04 61.53L750.63 61.46L754.23 61.4L757.82 61.46L761.42 61.52L765.01 61.59L768.6 61.65L772.2 61.7L775.79 61.7L779.39 61.7L782.98 61.84L786.57 62.01L790.17 62.21L793.76 62.42L797.36 62.61L800.95 62.69L804.54 62.77L808.14 62.85L811.73 62.93L815.33 62.99L818.92 62.83L822.51 62.68L826.11 62.53L829.7 62.37L833.3 62.22L836.89 62.06L840.48 61.89L844.08 61.71L847.67 61.53L851.27 61.34L854.86 61.16L858.45 60.98L862.05 60.61L865.64 60.11L869.24 59.61L872.83 59.55L876.42 59.61L880.02 59.67L883.61 59.75L887.21 59.83L890.8 59.92L894.39 60L897.99 60.09L901.58 61.1L905.18 62.94L908.77 65.7L912.36 71.7L915.96 77.5L919.55 85.9L923.15 102L926.74 126L930.33 150L933.93 187.2" stroke="#dd181f" stroke-width="1.9" fill="none" stroke-linejoin="round"/>
<path d="M708.95 62.05L713.25 66.35M708.95 66.35L713.25 62.05M712.54 61.28L716.84 65.58M712.54 65.58L716.84 61.28M716.14 60.48L720.44 64.78M716.14 64.78L720.44 60.48M719.73 59.92L724.03 64.22M719.73 64.22L724.03 59.92M723.33 59.84L727.63 64.14M723.33 64.14L727.63 59.84M726.92 59.75L731.22 64.05M726.92 64.05L731.22 59.75M730.51 59.66L734.81 63.96M730.51 63.96L734.81 59.66M734.11 59.58L738.41 63.88M734.11 63.88L738.41 59.58M737.7 59.51L742 63.81M737.7 63.81L742 59.51M741.3 59.44L745.6 63.74M741.3 63.74L745.6 59.44M744.89 59.38L749.19 63.68M744.89 63.68L749.19 59.38M748.48 59.31L752.78 63.61M748.48 63.61L752.78 59.31M752.08 59.25L756.38 63.55M752.08 63.55L756.38 59.25M755.67 59.31L759.97 63.61M755.67 63.61L759.97 59.31M759.27 59.37L763.57 63.67M759.27 63.67L763.57 59.37M762.86 59.44L767.16 63.74M762.86 63.74L767.16 59.44M766.45 59.5L770.75 63.8M766.45 63.8L770.75 59.5M770.05 59.55L774.35 63.85M770.05 63.85L774.35 59.55M773.64 59.55L777.94 63.85M773.64 63.85L777.94 59.55M777.24 59.55L781.54 63.85M777.24 63.85L781.54 59.55M780.83 59.69L785.13 63.99M780.83 63.99L785.13 59.69M784.42 59.86L788.72 64.16M784.42 64.16L788.72 59.86M788.02 60.06L792.32 64.36M788.02 64.36L792.32 60.06M791.61 60.27L795.91 64.57M791.61 64.57L795.91 60.27M795.21 60.46L799.51 64.76M795.21 64.76L799.51 60.46M798.8 60.54L803.1 64.84M798.8 64.84L803.1 60.54M802.39 60.62L806.69 64.92M802.39 64.92L806.69 60.62M805.99 60.7L810.29 65M805.99 65L810.29 60.7M809.58 60.78L813.88 65.08M809.58 65.08L813.88 60.78M813.18 60.84L817.48 65.14M813.18 65.14L817.48 60.84M816.77 60.68L821.07 64.98M816.77 64.98L821.07 60.68M820.36 60.53L824.66 64.83M820.36 64.83L824.66 60.53M823.96 60.38L828.26 64.68M823.96 64.68L828.26 60.38M827.55 60.22L831.85 64.52M827.55 64.52L831.85 60.22M831.15 60.07L835.45 64.37M831.15 64.37L835.45 60.07M834.74 59.91L839.04 64.21M834.74 64.21L839.04 59.91M838.33 59.74L842.63 64.04M838.33 64.04L842.63 59.74M841.93 59.56L846.23 63.86M841.93 63.86L846.23 59.56M845.52 59.38L849.82 63.68M845.52 63.68L849.82 59.38M849.12 59.19L853.42 63.49M849.12 63.49L853.42 59.19M852.71 59.01L857.01 63.31M852.71 63.31L857.01 59.01M856.3 58.83L860.6 63.13M856.3 63.13L860.6 58.83M859.9 58.46L864.2 62.76M859.9 62.76L864.2 58.46M863.49 57.96L867.79 62.26M863.49 62.26L867.79 57.96M867.09 57.46L871.39 61.76M867.09 61.76L871.39 57.46M870.68 57.4L874.98 61.7M870.68 61.7L874.98 57.4M874.27 57.46L878.57 61.76M874.27 61.76L878.57 57.46M877.87 57.52L882.17 61.82M877.87 61.82L882.17 57.52M881.46 57.6L885.76 61.9M881.46 61.9L885.76 57.6M885.06 57.68L889.36 61.98M885.06 61.98L889.36 57.68M888.65 57.77L892.95 62.07M888.65 62.07L892.95 57.77M892.24 57.85L896.54 62.15M892.24 62.15L896.54 57.85M895.84 57.94L900.14 62.24M895.84 62.24L900.14 57.94M899.43 58.95L903.73 63.25M899.43 63.25L903.73 58.95M903.03 60.79L907.33 65.09M903.03 65.09L907.33 60.79M906.62 63.55L910.92 67.85M906.62 67.85L910.92 63.55M910.21 69.55L914.51 73.85M910.21 73.85L914.51 69.55M913.81 75.35L918.11 79.65M913.81 79.65L918.11 75.35M917.4 83.75L921.7 88.05M917.4 88.05L921.7 83.75M921 99.85L925.3 104.15M921 104.15L925.3 99.85M924.59 123.85L928.89 128.15M924.59 128.15L928.89 123.85M928.18 147.85L932.48 152.15M928.18 152.15L932.48 147.85M931.78 185.05L936.08 189.35M931.78 189.35L936.08 185.05" stroke="#dd181f" stroke-width="1.3" fill="none"/>
<path d="M711.1 58.09L714.69 57.87L718.29 60.86L721.88 62.17L725.48 62.38L729.07 62.6L732.66 63.29L736.26 63.98L739.85 65.01L743.45 66.19L747.04 67.67L750.63 69.23L754.23 70.39L757.82 69.62L761.42 68.4L765.01 66.8L768.6 65.89L772.2 65.08L775.79 64.95L779.39 64.82L782.98 64.69L786.57 64.57L790.17 64.1L793.76 63.29L797.36 62.6L800.95 62.6L804.54 62.6L808.14 62.6L811.73 62.41L815.33 62.03L818.92 61.65L822.51 61.3L826.11 60.96L829.7 61.08L833.3 61.29L836.89 61.4L840.48 61.4L844.08 61.32L847.67 60.89L851.27 60.46L854.86 60.14L858.45 59.85L862.05 59.61L865.64 59.42L869.24 59.24L872.83 59.2L876.42 58.91L880.02 58.56L883.61 58.4L887.21 58.4L890.8 58.57L894.39 59.43L897.99 60.3L901.58 62.27L905.18 64.81L908.77 67.92L912.36 72.5L915.96 79.2L919.55 86.7L923.15 104L926.74 139.2L926.79 208.95" stroke="#056605" stroke-width="1.9" fill="none" stroke-dasharray="2.8 1.25" stroke-linejoin="round"/>
<path d="M711.1 55.89L713.1 59.34L709.1 59.34ZM714.69 55.67L716.69 59.12L712.69 59.12ZM718.29 58.66L720.29 62.11L716.29 62.11ZM721.88 59.97L723.88 63.42L719.88 63.42ZM725.48 60.18L727.48 63.63L723.48 63.63ZM729.07 60.4L731.07 63.85L727.07 63.85ZM732.66 61.09L734.66 64.54L730.66 64.54ZM736.26 61.78L738.26 65.23L734.26 65.23ZM739.85 62.81L741.85 66.26L737.85 66.26ZM743.45 63.99L745.45 67.44L741.45 67.44ZM747.04 65.47L749.04 68.92L745.04 68.92ZM750.63 67.03L752.63 70.48L748.63 70.48ZM754.23 68.19L756.23 71.64L752.23 71.64ZM757.82 67.42L759.82 70.87L755.82 70.87ZM761.42 66.2L763.42 69.65L759.42 69.65ZM765.01 64.6L767.01 68.05L763.01 68.05ZM768.6 63.69L770.6 67.14L766.6 67.14ZM772.2 62.88L774.2 66.33L770.2 66.33ZM775.79 62.75L777.79 66.2L773.79 66.2ZM779.39 62.62L781.39 66.07L777.39 66.07ZM782.98 62.49L784.98 65.94L780.98 65.94ZM786.57 62.37L788.57 65.82L784.57 65.82ZM790.17 61.9L792.17 65.35L788.17 65.35ZM793.76 61.09L795.76 64.54L791.76 64.54ZM797.36 60.4L799.36 63.85L795.36 63.85ZM800.95 60.4L802.95 63.85L798.95 63.85ZM804.54 60.4L806.54 63.85L802.54 63.85ZM808.14 60.4L810.14 63.85L806.14 63.85ZM811.73 60.21L813.73 63.66L809.73 63.66ZM815.33 59.83L817.33 63.28L813.33 63.28ZM818.92 59.45L820.92 62.9L816.92 62.9ZM822.51 59.1L824.51 62.55L820.51 62.55ZM826.11 58.76L828.11 62.21L824.11 62.21ZM829.7 58.88L831.7 62.33L827.7 62.33ZM833.3 59.09L835.3 62.54L831.3 62.54ZM836.89 59.2L838.89 62.65L834.89 62.65ZM840.48 59.2L842.48 62.65L838.48 62.65ZM844.08 59.12L846.08 62.57L842.08 62.57ZM847.67 58.69L849.67 62.14L845.67 62.14ZM851.27 58.26L853.27 61.71L849.27 61.71ZM854.86 57.94L856.86 61.39L852.86 61.39ZM858.45 57.65L860.45 61.1L856.45 61.1ZM862.05 57.41L864.05 60.86L860.05 60.86ZM865.64 57.22L867.64 60.67L863.64 60.67ZM869.24 57.04L871.24 60.49L867.24 60.49ZM872.83 57L874.83 60.45L870.83 60.45ZM876.42 56.71L878.42 60.16L874.42 60.16ZM880.02 56.36L882.02 59.81L878.02 59.81ZM883.61 56.2L885.61 59.65L881.61 59.65ZM887.21 56.2L889.21 59.65L885.21 59.65ZM890.8 56.37L892.8 59.82L888.8 59.82ZM894.39 57.23L896.39 60.68L892.39 60.68ZM897.99 58.1L899.99 61.55L895.99 61.55ZM901.58 60.07L903.58 63.52L899.58 63.52ZM905.18 62.61L907.18 66.06L903.18 66.06ZM908.77 65.72L910.77 69.17L906.77 69.17ZM912.36 70.3L914.36 73.75L910.36 73.75ZM915.96 77L917.96 80.45L913.96 80.45ZM919.55 84.5L921.55 87.95L917.55 87.95ZM923.15 101.8L925.15 105.25L921.15 105.25ZM926.74 137L928.74 140.45L924.74 140.45Z" fill="#056605" stroke="#056605" stroke-width="0.5" stroke-linejoin="miter"/>
<path d="M711.1 52.05L714.69 50.24L718.29 47.33L721.88 44.38L725.48 41.64L729.07 38.72L732.66 36.11L736.26 35.05L739.85 36.37L743.45 38.88L747.04 43.33L750.63 49.75L754.23 53.83L757.82 57L761.42 59.03L765.01 59.04L768.6 60.47L772.2 61.85L775.79 62.92L779.39 63.99L782.98 64.62L786.57 65.14L790.17 65.51L793.76 65.72L797.36 65.93L800.95 66.15L804.54 66.36L808.14 66.52L811.73 66.67L815.33 66.77L818.92 66.5L822.51 66.22L826.11 65.95L829.7 65.9L833.3 65.9L836.89 65.9L840.48 65.9L844.08 65.87L847.67 65.7L851.27 65.53L854.86 65.35L858.45 65.18L862.05 65.02L865.64 64.88L869.24 64.73L872.83 65.28L876.42 65.4L880.02 65.4L883.61 65.51L887.21 65.73L890.8 66.04L894.39 66.78L897.99 67.52L901.58 70L905.18 72.5L908.77 75.9L912.36 77.8L915.96 82L919.55 90.1L923.15 102.6L926.74 124.2L930.33 187.2L930.38 208.95" stroke="#0c62b0" stroke-width="1.9" fill="none" stroke-dasharray="1.4 2.0" stroke-linejoin="round"/>
<g fill="#0c62b0"><circle cx="711.1" cy="52.05" r="3.05"/><circle cx="714.69" cy="50.24" r="3.05"/><circle cx="718.29" cy="47.33" r="3.05"/><circle cx="721.88" cy="44.38" r="3.05"/><circle cx="725.48" cy="41.64" r="3.05"/><circle cx="729.07" cy="38.72" r="3.05"/><circle cx="732.66" cy="36.11" r="3.05"/><circle cx="736.26" cy="35.05" r="3.05"/><circle cx="739.85" cy="36.37" r="3.05"/><circle cx="743.45" cy="38.88" r="3.05"/><circle cx="747.04" cy="43.33" r="3.05"/><circle cx="750.63" cy="49.75" r="3.05"/><circle cx="754.23" cy="53.83" r="3.05"/><circle cx="757.82" cy="57" r="3.05"/><circle cx="761.42" cy="59.03" r="3.05"/><circle cx="765.01" cy="59.04" r="3.05"/><circle cx="768.6" cy="60.47" r="3.05"/><circle cx="772.2" cy="61.85" r="3.05"/><circle cx="775.79" cy="62.92" r="3.05"/><circle cx="779.39" cy="63.99" r="3.05"/><circle cx="782.98" cy="64.62" r="3.05"/><circle cx="786.57" cy="65.14" r="3.05"/><circle cx="790.17" cy="65.51" r="3.05"/><circle cx="793.76" cy="65.72" r="3.05"/><circle cx="797.36" cy="65.93" r="3.05"/><circle cx="800.95" cy="66.15" r="3.05"/><circle cx="804.54" cy="66.36" r="3.05"/><circle cx="808.14" cy="66.52" r="3.05"/><circle cx="811.73" cy="66.67" r="3.05"/><circle cx="815.33" cy="66.77" r="3.05"/><circle cx="818.92" cy="66.5" r="3.05"/><circle cx="822.51" cy="66.22" r="3.05"/><circle cx="826.11" cy="65.95" r="3.05"/><circle cx="829.7" cy="65.9" r="3.05"/><circle cx="833.3" cy="65.9" r="3.05"/><circle cx="836.89" cy="65.9" r="3.05"/><circle cx="840.48" cy="65.9" r="3.05"/><circle cx="844.08" cy="65.87" r="3.05"/><circle cx="847.67" cy="65.7" r="3.05"/><circle cx="851.27" cy="65.53" r="3.05"/><circle cx="854.86" cy="65.35" r="3.05"/><circle cx="858.45" cy="65.18" r="3.05"/><circle cx="862.05" cy="65.02" r="3.05"/><circle cx="865.64" cy="64.88" r="3.05"/><circle cx="869.24" cy="64.73" r="3.05"/><circle cx="872.83" cy="65.28" r="3.05"/><circle cx="876.42" cy="65.4" r="3.05"/><circle cx="880.02" cy="65.4" r="3.05"/><circle cx="883.61" cy="65.51" r="3.05"/><circle cx="887.21" cy="65.73" r="3.05"/><circle cx="890.8" cy="66.04" r="3.05"/><circle cx="894.39" cy="66.78" r="3.05"/><circle cx="897.99" cy="67.52" r="3.05"/><circle cx="901.58" cy="70" r="3.05"/><circle cx="905.18" cy="72.5" r="3.05"/><circle cx="908.77" cy="75.9" r="3.05"/><circle cx="912.36" cy="77.8" r="3.05"/><circle cx="915.96" cy="82" r="3.05"/><circle cx="919.55" cy="90.1" r="3.05"/><circle cx="923.15" cy="102.6" r="3.05"/><circle cx="926.74" cy="124.2" r="3.05"/><circle cx="930.33" cy="187.2" r="3.05"/></g><g fill="none" stroke="#65a3de" stroke-width="0.6"><circle cx="711.1" cy="52.05" r="1.2"/><circle cx="714.69" cy="50.24" r="1.2"/><circle cx="718.29" cy="47.33" r="1.2"/><circle cx="721.88" cy="44.38" r="1.2"/><circle cx="725.48" cy="41.64" r="1.2"/><circle cx="729.07" cy="38.72" r="1.2"/><circle cx="732.66" cy="36.11" r="1.2"/><circle cx="736.26" cy="35.05" r="1.2"/><circle cx="739.85" cy="36.37" r="1.2"/><circle cx="743.45" cy="38.88" r="1.2"/><circle cx="747.04" cy="43.33" r="1.2"/><circle cx="750.63" cy="49.75" r="1.2"/><circle cx="754.23" cy="53.83" r="1.2"/><circle cx="757.82" cy="57" r="1.2"/><circle cx="761.42" cy="59.03" r="1.2"/><circle cx="765.01" cy="59.04" r="1.2"/><circle cx="768.6" cy="60.47" r="1.2"/><circle cx="772.2" cy="61.85" r="1.2"/><circle cx="775.79" cy="62.92" r="1.2"/><circle cx="779.39" cy="63.99" r="1.2"/><circle cx="782.98" cy="64.62" r="1.2"/><circle cx="786.57" cy="65.14" r="1.2"/><circle cx="790.17" cy="65.51" r="1.2"/><circle cx="793.76" cy="65.72" r="1.2"/><circle cx="797.36" cy="65.93" r="1.2"/><circle cx="800.95" cy="66.15" r="1.2"/><circle cx="804.54" cy="66.36" r="1.2"/><circle cx="808.14" cy="66.52" r="1.2"/><circle cx="811.73" cy="66.67" r="1.2"/><circle cx="815.33" cy="66.77" r="1.2"/><circle cx="818.92" cy="66.5" r="1.2"/><circle cx="822.51" cy="66.22" r="1.2"/><circle cx="826.11" cy="65.95" r="1.2"/><circle cx="829.7" cy="65.9" r="1.2"/><circle cx="833.3" cy="65.9" r="1.2"/><circle cx="836.89" cy="65.9" r="1.2"/><circle cx="840.48" cy="65.9" r="1.2"/><circle cx="844.08" cy="65.87" r="1.2"/><circle cx="847.67" cy="65.7" r="1.2"/><circle cx="851.27" cy="65.53" r="1.2"/><circle cx="854.86" cy="65.35" r="1.2"/><circle cx="858.45" cy="65.18" r="1.2"/><circle cx="862.05" cy="65.02" r="1.2"/><circle cx="865.64" cy="64.88" r="1.2"/><circle cx="869.24" cy="64.73" r="1.2"/><circle cx="872.83" cy="65.28" r="1.2"/><circle cx="876.42" cy="65.4" r="1.2"/><circle cx="880.02" cy="65.4" r="1.2"/><circle cx="883.61" cy="65.51" r="1.2"/><circle cx="887.21" cy="65.73" r="1.2"/><circle cx="890.8" cy="66.04" r="1.2"/><circle cx="894.39" cy="66.78" r="1.2"/><circle cx="897.99" cy="67.52" r="1.2"/><circle cx="901.58" cy="70" r="1.2"/><circle cx="905.18" cy="72.5" r="1.2"/><circle cx="908.77" cy="75.9" r="1.2"/><circle cx="912.36" cy="77.8" r="1.2"/><circle cx="915.96" cy="82" r="1.2"/><circle cx="919.55" cy="90.1" r="1.2"/><circle cx="923.15" cy="102.6" r="1.2"/><circle cx="926.74" cy="124.2" r="1.2"/><circle cx="930.33" cy="187.2" r="1.2"/></g>
<rect x="720" y="141.66" width="130.46" height="62.9" fill="#fff" stroke="#000" stroke-width="1.4"/>
<rect x="711.25" y="18.05" width="222.9" height="190.9" fill="none" stroke="#000" stroke-width="1.0"/>
<path d="M753.08 208.95v-4.3M753.08 18.05v4.3M798.36 208.95v-4.3M798.36 18.05v4.3M843.64 208.95v-4.3M843.64 18.05v4.3M888.92 208.95v-4.3M888.92 18.05v4.3M711.25 45.32h4.3M934.15 45.32h-4.3M711.25 72.59h4.3M934.15 72.59h-4.3M711.25 99.86h4.3M934.15 99.86h-4.3M711.25 127.14h4.3M934.15 127.14h-4.3M711.25 154.41h4.3M934.15 154.41h-4.3M711.25 181.68h4.3M934.15 181.68h-4.3" stroke="#000" stroke-width="0.8" fill="none"/>
<path d="M711.25 37.11h2.3M934.15 37.11h-2.3M711.25 26.26h2.3M934.15 26.26h-2.3M711.25 20.69h2.3M934.15 20.69h-2.3M711.25 64.38h2.3M934.15 64.38h-2.3M711.25 53.53h2.3M934.15 53.53h-2.3M711.25 47.96h2.3M934.15 47.96h-2.3M711.25 91.65h2.3M934.15 91.65h-2.3M711.25 80.8h2.3M934.15 80.8h-2.3M711.25 75.24h2.3M934.15 75.24h-2.3M711.25 118.93h2.3M934.15 118.93h-2.3M711.25 108.07h2.3M934.15 108.07h-2.3M711.25 102.51h2.3M934.15 102.51h-2.3M711.25 146.2h2.3M934.15 146.2h-2.3M711.25 135.35h2.3M934.15 135.35h-2.3M711.25 129.78h2.3M934.15 129.78h-2.3M711.25 173.47h2.3M934.15 173.47h-2.3M711.25 162.62h2.3M934.15 162.62h-2.3M711.25 157.05h2.3M934.15 157.05h-2.3M711.25 200.74h2.3M934.15 200.74h-2.3M711.25 189.89h2.3M934.15 189.89h-2.3M711.25 184.32h2.3M934.15 184.32h-2.3" stroke="#000" stroke-width="0.6" fill="none"/>
<text x="680.85" y="22.55" font-size="15.4" textLength="15.0" lengthAdjust="spacingAndGlyphs">10</text><text x="698.55" y="16.65" text-anchor="middle" font-size="11.4">2</text>
<text x="680.85" y="49.82" font-size="15.4" textLength="15.0" lengthAdjust="spacingAndGlyphs">10</text><text x="698.55" y="43.92" text-anchor="middle" font-size="11.4">1</text>
<text x="680.85" y="77.09" font-size="15.4" textLength="15.0" lengthAdjust="spacingAndGlyphs">10</text><text x="698.55" y="71.19" text-anchor="middle" font-size="11.4">0</text>
<text x="671.55" y="104.36" font-size="15.4" textLength="15.0" lengthAdjust="spacingAndGlyphs">10</text><rect x="688.15" y="95.56" width="6.6" height="0.8"/><text x="698.35" y="98.46" text-anchor="middle" font-size="11.4">1</text>
<text x="671.55" y="131.64" font-size="15.4" textLength="15.0" lengthAdjust="spacingAndGlyphs">10</text><rect x="688.15" y="122.84" width="6.6" height="0.8"/><text x="698.35" y="125.74" text-anchor="middle" font-size="11.4">2</text>
<text x="671.55" y="158.91" font-size="15.4" textLength="15.0" lengthAdjust="spacingAndGlyphs">10</text><rect x="688.15" y="150.11" width="6.6" height="0.8"/><text x="698.35" y="153.01" text-anchor="middle" font-size="11.4">3</text>
<text x="671.55" y="186.18" font-size="15.4" textLength="15.0" lengthAdjust="spacingAndGlyphs">10</text><rect x="688.15" y="177.38" width="6.6" height="0.8"/><text x="698.35" y="180.28" text-anchor="middle" font-size="11.4">4</text>
<text x="671.55" y="213.45" font-size="15.4" textLength="15.0" lengthAdjust="spacingAndGlyphs">10</text><rect x="688.15" y="204.65" width="6.6" height="0.8"/><text x="698.35" y="207.55" text-anchor="middle" font-size="11.4">5</text>
<text x="743.18" y="228.1" font-size="16.0" textLength="19.5" lengthAdjust="spacingAndGlyphs">0.2</text>
<text x="788.46" y="228.1" font-size="16.0" textLength="19.5" lengthAdjust="spacingAndGlyphs">0.4</text>
<text x="833.74" y="228.1" font-size="16.0" textLength="19.5" lengthAdjust="spacingAndGlyphs">0.6</text>
<text x="879.02" y="228.1" font-size="16.0" textLength="19.5" lengthAdjust="spacingAndGlyphs">0.8</text>
<text x="934.15" y="228.1" text-anchor="middle" font-size="16.0">1</text>
<text x="791.35" y="160.6" text-anchor="end" font-size="14.4">1</text>
<path d="M773.65 155.2h10.4M773.65 158.4h10.4" stroke="#000" stroke-width="0.7" fill="none"/>
<text x="773.15" y="160.6" text-anchor="end" font-size="15.6">e</text>
<text x="756.25" y="160.6" font-size="15.3" textLength="10.0" lengthAdjust="spacingAndGlyphs">P</text>
<path d="M800.65 157.05H841.25" stroke="#dd181f" stroke-width="1.9"/>
<path d="M818.7 154.9L823 159.2M818.7 159.2L823 154.9" stroke="#dd181f" stroke-width="1.3" fill="none"/>
<text x="791.35" y="176.6" text-anchor="end" font-size="14.4">10</text>
<path d="M766.45 171.2h10.4M766.45 174.4h10.4" stroke="#000" stroke-width="0.7" fill="none"/>
<text x="765.95" y="176.6" text-anchor="end" font-size="15.6">e</text>
<text x="749.05" y="176.6" font-size="15.3" textLength="10.0" lengthAdjust="spacingAndGlyphs">P</text>
<path d="M800.65 173.05H841.25" stroke="#056605" stroke-width="1.9" stroke-dasharray="2.8 1.25"/>
<path d="M820.85 170.85L822.85 174.3L818.85 174.3Z" fill="#056605" stroke="#056605" stroke-width="0.5" stroke-linejoin="miter"/>
<text x="791.35" y="192.6" text-anchor="end" font-size="14.4">100</text>
<path d="M759.25 187.2h10.4M759.25 190.4h10.4" stroke="#000" stroke-width="0.7" fill="none"/>
<text x="758.75" y="192.6" text-anchor="end" font-size="15.6">e</text>
<text x="741.85" y="192.6" font-size="15.3" textLength="10.0" lengthAdjust="spacingAndGlyphs">P</text>
<path d="M800.65 189.05H841.25" stroke="#0c62b0" stroke-width="1.9" stroke-dasharray="1.4 2.0"/>
<g fill="#0c62b0"><circle cx="820.85" cy="189.05" r="3.05"/></g><g fill="none" stroke="#65a3de" stroke-width="0.6"><circle cx="820.85" cy="189.05" r="1.2"/></g>
<text x="869.9" y="181.2" font-size="17" font-weight="bold" textLength="4.9" lengthAdjust="spacingAndGlyphs">(</text>
<text x="875.7" y="181.0" font-size="14.4" font-weight="bold" font-style="italic" textLength="8.4" lengthAdjust="spacingAndGlyphs">c</text>
<text x="883.9" y="181.2" font-size="17" font-weight="bold" textLength="4.9" lengthAdjust="spacingAndGlyphs">)</text>
<text x="818.4" y="250.0" font-size="19.4" font-style="italic">r</text>
<path transform="translate(823.1 237.9)" d="M-3.1 0.7c0.7-1.7 1.9-1.7 3.1-0.7s2.4 1 3.1-0.7" stroke="#000" stroke-width="0.75" fill="none" stroke-linecap="round"/>
<g transform="translate(654.25 141.9) rotate(-90)" font-size="19.4"><text x="0.2" y="0">2</text><text x="10.2" y="0" font-style="italic" textLength="10.4" lengthAdjust="spacingAndGlyphs">π</text><text x="21.6" y="0" font-style="italic">p</text><text x="32.2" y="1.0" font-size="23" textLength="6.4" lengthAdjust="spacingAndGlyphs">(</text><text x="38.9" y="0" font-style="italic">r</text><path transform="translate(43.9 -12.1)" d="M-3.1 0.7c0.7-1.7 1.9-1.7 3.1-0.7s2.4 1 3.1-0.7" stroke="#000" stroke-width="0.75" fill="none" stroke-linecap="round"/><text x="49.0" y="1.0" font-size="23" textLength="6.4" lengthAdjust="spacingAndGlyphs">)</text></g>
</g>
</svg>
</body></html>
